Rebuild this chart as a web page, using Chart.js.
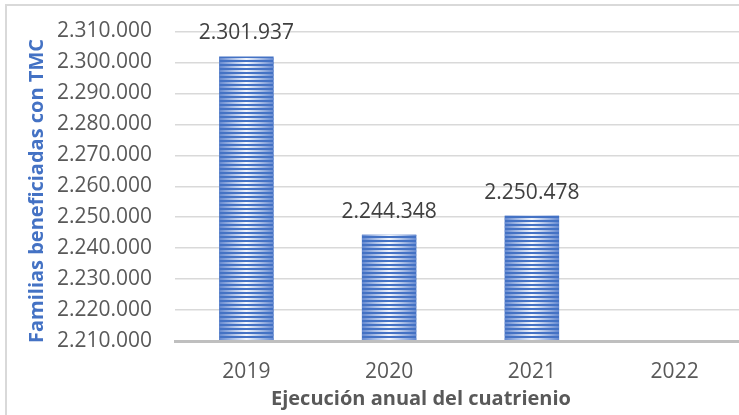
<!DOCTYPE html>
<html>
<head>
<meta charset="utf-8">
<script src="https://cdn.jsdelivr.net/npm/chart.js@4.4.1/dist/chart.umd.min.js"></script>
<style>
  html, body { margin:0; padding:0; background:#fff; overflow:hidden; width:739px; height:415px; }
  #frame { position:absolute; left:5px; top:4px; width:800px; height:500px; border:2px solid #d9d9d9; box-sizing:border-box; }
  #c { position:absolute; left:0; top:0; }
</style>
</head>
<body>
<div id="frame"></div>
<canvas id="c" width="750" height="415"></canvas>
<script>
const categories = ['2019', '2020', '2021', '2022'];
const values = [2301937, 2244348, 2250478, null];
const yMin = 2210000;
const yMax = 2310000;
const yStep = 10000;
const xTitle = 'Ejecución anual del cuatrienio';
const yTitle = 'Familias beneficiadas con TMC';

const FONT = '"Open Sans", "Noto Sans", sans-serif';
const fmt = v => String(Math.round(v)).replace(/\B(?=(\d{3})+(?!\d))/g, '.');

const stripes = {
  id: 'stripes',
  afterDatasetsDraw(chart) {
    const ctx = chart.ctx;
    const area = chart.chartArea;
    chart.getDatasetMeta(0).data.forEach((bar, i) => {
      if (values[i] == null) return;
      const p = bar.getProps(['x', 'y', 'base', 'width'], true);
      const bottom = Math.min(p.base, area.bottom);
      const l = p.x - p.width / 2;
      const g = ctx.createLinearGradient(l, 0, l + p.width, 0);
      g.addColorStop(0, '#6388d0');
      g.addColorStop(0.5, '#f5f8fd');
      g.addColorStop(1, '#6388d0');
      ctx.save();
      ctx.beginPath();
      ctx.rect(l, p.y, p.width, bottom - p.y);
      ctx.clip();
      ctx.fillStyle = g;
      for (let yy = bottom - 3; yy > p.y - 2; yy -= 4) ctx.fillRect(l, yy, p.width, 2);
      ctx.restore();
      ctx.save();
      ctx.font = '21px ' + FONT;
      ctx.fillStyle = '#404040';
      ctx.textAlign = 'center';
      ctx.textBaseline = 'middle';
      ctx.fillText(fmt(values[i]), p.x, p.y - 23);
      ctx.restore();
    });
  }
};

const titles = {
  id: 'titles',
  afterDraw(chart) {
    const ctx = chart.ctx;
    ctx.save();
    ctx.font = 'bold 20px ' + FONT;
    ctx.fillStyle = '#595959';
    ctx.textAlign = 'center';
    ctx.textBaseline = 'alphabetic';
    ctx.fillText(xTitle, 421, 405);
    ctx.restore();
    ctx.save();
    ctx.translate(43, 191);
    ctx.rotate(-Math.PI / 2);
    ctx.font = 'bold 20px ' + FONT;
    ctx.fillStyle = '#4472c4';
    ctx.textAlign = 'center';
    ctx.textBaseline = 'alphabetic';
    ctx.fillText(yTitle, 0, 0);
    ctx.restore();
  }
};

new Chart(document.getElementById('c'), {
  type: 'bar',
  data: {
    labels: categories,
    datasets: [{
      data: values,
      backgroundColor: '#4472c4',
      borderWidth: 0,
      barPercentage: 0.382,
      categoryPercentage: 1.0
    }]
  },
  options: {
    responsive: false,
    animation: false,
    devicePixelRatio: 1,
    layout: { padding: { left: 0, top: 31.5, right: 4, bottom: 0 } },
    plugins: { legend: { display: false }, tooltip: { enabled: false } },
    scales: {
      x: {
        grid: { display: false, drawTicks: false },
        border: { display: true, color: '#bfbfbf', width: 3, z: 1 },
        ticks: { color: '#595959', font: { family: FONT, size: 21 }, padding: 18, maxRotation: 0 },
        afterFit(s) { s.height = 74; s.paddingLeft = 0; s.paddingRight = 0; }
      },
      y: {
        min: yMin,
        max: yMax,
        grid: { color: '#d9d9d9', lineWidth: 1.5, drawTicks: false },
        border: { display: false },
        ticks: { stepSize: yStep, color: '#595959', font: { family: FONT, size: 21 }, padding: 23, callback: v => fmt(v) },
        afterFit(s) { s.width = 175; s.paddingTop = 0; s.paddingBottom = 0; }
      }
    }
  },
  plugins: [stripes, titles]
});
</script>
</body>
</html>
